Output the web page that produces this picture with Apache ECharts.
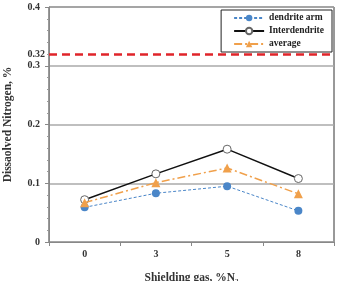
<!DOCTYPE html>
<html>
<head>
<meta charset="utf-8">
<script src="https://cdn.jsdelivr.net/npm/echarts@6/dist/echarts.min.js"></script>
<style>
  html, body { margin: 0; padding: 0; background: #fff; }
  #chart { width: 337px; height: 281px; }
</style>
</head>
<body>
<div id="chart"></div>
<script>
  // shielding gas levels, % N2
  var gasLevels = ['0', '3', '5', '8'];
  var dendriteArm = [0.059, 0.083, 0.095, 0.053];
  var interdendrite = [0.072, 0.116, 0.158, 0.108];
  var average = [0.067, 0.101, 0.126, 0.082];
  var limitValue = 0.32;

  var serif = '"Liberation Serif", "DejaVu Serif", serif';
  var myChart = echarts.init(document.getElementById('chart'));

  myChart.setOption({
    animation: false,
    backgroundColor: '#fff',
    grid: {
      left: 49, right: 3, top: 7, bottom: 39,
      outerBoundsMode: 'none',
      containLabel: false,
      show: true, borderColor: '#333', borderWidth: 1
    },
    legend: {
      orient: 'vertical',
      right: 5, top: 10,
      itemWidth: 30, itemHeight: 8, itemGap: 3,
      padding: [3, 8, 3, 12],
      borderColor: '#222', borderWidth: 1,
      backgroundColor: '#fff',
      textStyle: { fontFamily: serif, fontWeight: 'bold', fontSize: 9.5, color: '#222' },
      data: ['dendrite arm', 'Interdendrite', 'average']
    },
    xAxis: {
      type: 'category',
      data: gasLevels,
      boundaryGap: true,
      name: 'Shielding gas, %N\u2082',
      nameLocation: 'middle',
      nameGap: 30,
      nameTextStyle: { fontFamily: serif, fontWeight: 'bold', fontSize: 11.5, color: '#333' },
      axisLine: { lineStyle: { color: '#888', width: 1 } },
      axisTick: { show: true, length: 4, lineStyle: { color: '#888' } },
      axisLabel: { fontFamily: serif, fontWeight: 'bold', fontSize: 10, color: '#333', margin: 7 },
      splitLine: { show: false }
    },
    yAxis: {
      type: 'value',
      min: 0, max: 0.4, interval: 0.1,
      name: 'Dissaolved Nitrogen, %',
      nameLocation: 'middle',
      nameGap: 35,
      nameTextStyle: { fontFamily: serif, fontWeight: 'bold', fontSize: 11.5, color: '#333' },
      axisLine: { show: true, lineStyle: { color: '#888', width: 1 } },
      axisTick: { show: true, length: 4, lineStyle: { color: '#888' } },
      minorTick: { show: true, splitNumber: 5, length: 2, lineStyle: { color: '#999' } },
      axisLabel: {
        fontFamily: serif, fontWeight: 'bold', fontSize: 10, color: '#333', margin: 9,
        formatter: function (v) { return +v.toFixed(2) + ''; }
      },
      splitLine: { show: true, lineStyle: { color: '#aaa', width: 1.5 } }
    },
    series: [
      {
        name: 'dendrite arm',
        type: 'line',
        data: dendriteArm,
        symbol: 'circle',
        symbolSize: 8,
        itemStyle: { color: '#4a86c8' },
        lineStyle: { color: '#4a86c8', width: 1, type: [3, 2] },
        z: 3
      },
      {
        name: 'Interdendrite',
        type: 'line',
        data: interdendrite,
        symbol: 'circle',
        symbolSize: 8,
        itemStyle: { color: '#fff', borderColor: '#666', borderWidth: 1 },
        lineStyle: { color: '#111', width: 1.5, type: 'solid' },
        z: 2,
        markLine: {
          silent: true,
          symbol: 'none',
          lineStyle: { color: '#e0242a', width: 2.5, type: [8, 5] },
          label: {
            show: true, position: 'start', distance: 4,
            fontFamily: serif, fontWeight: 'bold', fontSize: 10, color: '#333',
            formatter: String(limitValue)
          },
          data: [{ yAxis: limitValue }]
        }
      },
      {
        name: 'average',
        type: 'line',
        data: average,
        symbol: 'triangle',
        symbolSize: 9,
        itemStyle: { color: '#f0a04b' },
        lineStyle: { color: '#f0a04b', width: 1.5, type: [8, 3, 2, 3] },
        z: 4
      }
    ]
  });
</script>
</body>
</html>
